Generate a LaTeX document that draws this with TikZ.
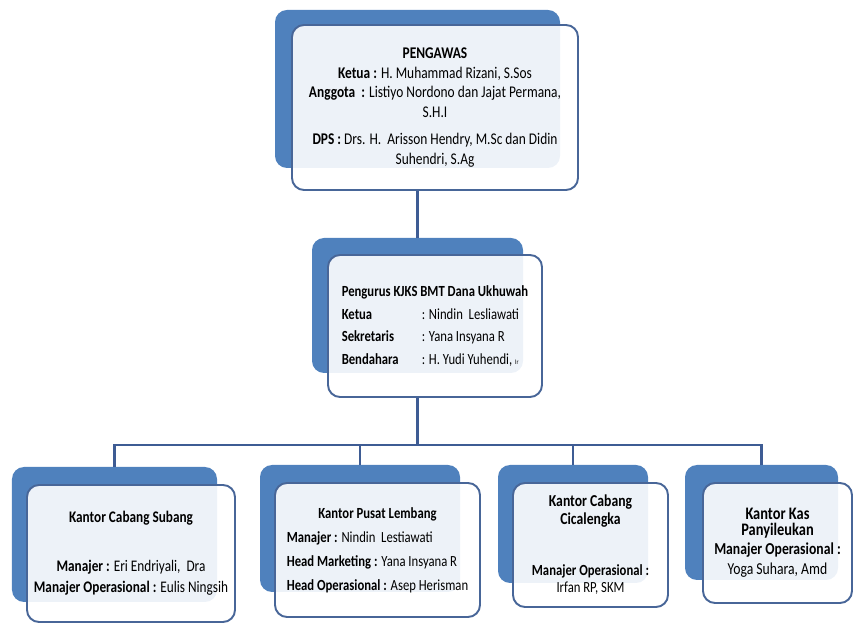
\documentclass[tikz,border=0pt]{standalone}
\usepackage{fontspec}
\setmainfont{Carlito}[FakeStretch=0.82]
\usetikzlibrary{positioning}
\definecolor{backblue}{RGB}{79,129,189}
\definecolor{rimblue}{RGB}{72,102,152}
\definecolor{linkblue}{RGB}{62,92,148}

\begin{document}
\begin{tikzpicture}[
    backbox/.style={fill=backblue,rounded corners=0.24cm,inner sep=0pt},
    frontbox/.style={draw=rimblue,line width=1.1pt,fill=white,fill opacity=0.9,text opacity=1,
      rounded corners=0.24cm,inner sep=0pt,font=\fontsize{9}{11}\selectfont},
    link/.style={draw=linkblue,line width=1.2pt}]
  \useasboundingbox (0,0) rectangle (17.2,-12.54);
  % pengawas
  \node[backbox,minimum width=5.7cm,minimum height=3.16cm] (pengB) at (8.35,-1.78) {};
  \node[frontbox,minimum width=5.72cm,minimum height=3.30cm,align=center,font=\fontsize{9.3}{11.1}\selectfont] (pengF) at (8.70,-2.15)
    {{\bfseries PENGAWAS}\\
     {\bfseries Ketua :} H. Muhammad Rizani, S.Sos\\
     {\bfseries Anggota~ :} Listiyo Nordono dan Jajat Permana,\\
     S.H.I\\[4.5pt]
     {\bfseries DPS :} Drs. H.~ Arisson Hendry, M.Sc dan Didin\\
     Suhendri, S.Ag};
  % pengurus
  \node[backbox,minimum width=4.22cm,minimum height=2.70cm] (pengurusB) at (8.35,-6.11) {};
  \node[frontbox,minimum width=4.28cm,minimum height=2.84cm,font=\fontsize{8.8}{13}\selectfont] (pengurusF) at (8.70,-6.52)
    {\begin{tabular}{@{}p{1.6cm}@{}l@{}}
       \multicolumn{2}{@{}l@{}}{\bfseries Pengurus KJKS BMT Dana Ukhuwah}\\
       \bfseries Ketua & : Nindin~ Lesliawati\\
       \bfseries Sekretaris & : Yana Insyana R\\
       \bfseries Bendahara & : H. Yudi Yuhendi, {\fontsize{4}{4}\selectfont Ir}
     \end{tabular}};
  % kantor
  \node[backbox,minimum width=4.10cm,minimum height=2.70cm] (subangB) at (2.29,-10.69) {};
  \node[frontbox,minimum width=4.16cm,minimum height=2.74cm,align=center,font=\fontsize{9.2}{12}\selectfont] (subangF) at (2.62,-11.07)
    {{\bfseries Kantor Cabang Subang}\\[16pt]
     {\bfseries Manajer :} Eri Endriyali,~ Dra\\
     {\bfseries Manajer Operasional :} Eulis Ningsih};
  \node[backbox,minimum width=4.00cm,minimum height=2.54cm] (lembangB) at (7.20,-10.57) {};
  \node[frontbox,minimum width=4.10cm,minimum height=2.68cm,font=\fontsize{8.8}{13.6}\selectfont] (lembangF) at (7.55,-11.00)
    {\begin{tabular}{@{}l@{}}
       \multicolumn{1}{@{}c@{}}{\bfseries Kantor Pusat Lembang}\\
       {\bfseries Manajer :} Nindin~ Lestiawati\\
       {\bfseries Head Marketing :} Yana Insyana R\\
       {\bfseries Head Operasional :} Asep Herisman
     \end{tabular}};
  \node[backbox,minimum width=3.00cm,minimum height=2.36cm] (cicalengkaB) at (11.46,-10.48) {};
  \node[frontbox,minimum width=3.10cm,minimum height=2.48cm,align=center,font=\fontsize{8.8}{10}\selectfont] (cicalengkaF) at (11.81,-10.90)
    {{\bfseries\fontsize{9.5}{10}\selectfont Kantor Cabang}\\
     {\bfseries\fontsize{9.5}{10}\selectfont Cicalengka}\\[19pt]
     {\bfseries Manajer Operasional :}\\
     Irfan RP, SKM};
  \node[backbox,minimum width=3.06cm,minimum height=2.30cm] (panyileukanB) at (15.23,-10.45) {};
  \node[frontbox,minimum width=2.98cm,minimum height=2.40cm,align=center,font=\fontsize{9.5}{10}\selectfont] (panyileukanF) at (15.55,-10.86)
    {{\bfseries\fontsize{10}{10}\selectfont Kantor Kas}\\[-1pt]
     {\bfseries\fontsize{10}{10}\selectfont Panyileukan}\\[1pt]
     {\bfseries Manajer Operasional :}\\[1.5pt]
     Yoga Suhara, Amd};
  % connectors
  \coordinate (bus) at (8.35,-8.90);
  \draw[link] (pengF.south -| pengurusB.north) -- (pengurusB.north);
  \draw[link] (pengurusF.south -| pengurusB.north) -- (bus);
  \draw[link] (subangB.north) -- (subangB.north |- bus) -- (panyileukanB.north |- bus) -- (panyileukanB.north);
  \foreach \k in {lembangB,cicalengkaB}
    \draw[link] (\k.north |- bus) -- (\k.north);
\end{tikzpicture}
\end{document}
